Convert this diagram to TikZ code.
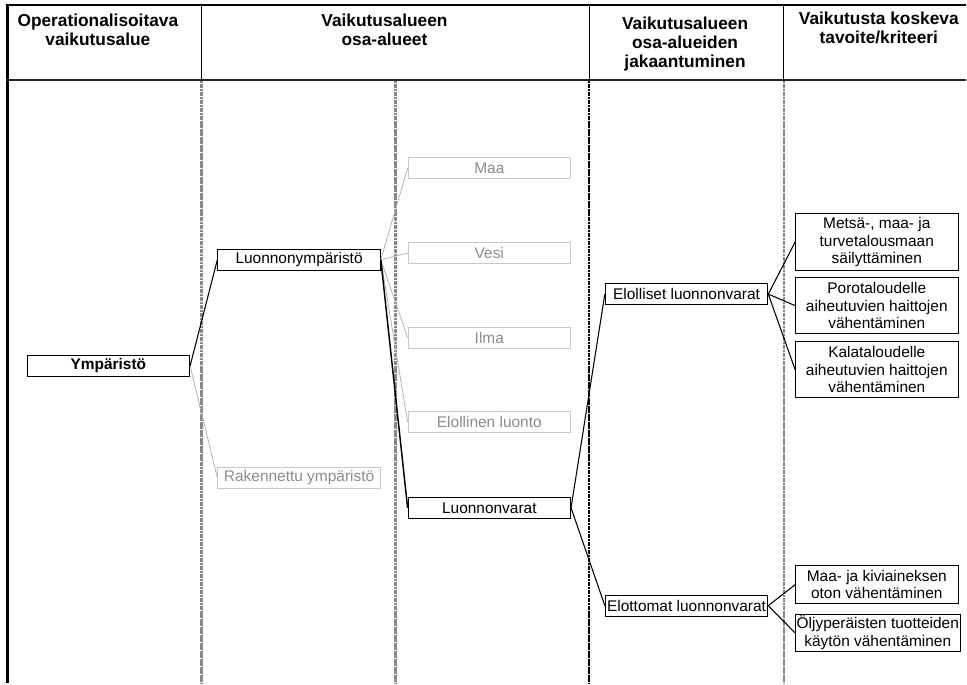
\documentclass[tikz,border=0pt]{standalone}
\usepackage{fontspec}
\setmainfont{Liberation Sans}
\definecolor{pale}{HTML}{C8C8C8}
\definecolor{paletext}{HTML}{8C8C8C}
\definecolor{paleline}{HTML}{B4B4B4}
\definecolor{divgray}{HTML}{888888}
\tikzset{
  area/.style={draw, line width=0.75pt, fill=white, inner sep=0pt, minimum width=122pt,
    minimum height=15.75pt, font=\fontsize{11.6}{12.9}\selectfont, align=center},
  areaoff/.style={area, draw=pale, text=paletext},
  link/.style={line width=0.8pt},
  linkoff/.style={line width=0.6pt, draw=paleline},
  divider/.style={line width=1.9pt, dash pattern=on 1.6pt off 0.4pt},
  headtext/.style={font=\fontsize{13}{14.2}\selectfont\bfseries, align=center,
    inner sep=0pt, anchor=north},
}
\begin{document}
\begin{tikzpicture}[x=0.75pt, y=-0.75pt]
                        \fill[white] (0,0) rectangle (967,684);%
                        
                        % Drawing header frame
                        \draw [line width=2pt] (6,5) -- (967,5);%
                        \draw [line width=2.5pt] (7.5,4) -- (7.5,684);%
                        \draw [line width=1.6pt, black!85] (6,80) -- (967,80);%
                        \draw [line width=0.75pt] (202,5) -- (202,80);%
                        \draw [line width=0.75pt] (590,5) -- (590,80);%
                        \draw [line width=0.75pt] (785,5) -- (785,80);%
                        
                        % Drawing column dividers
                        \draw [divider, divgray] (202,81) -- (202,684);%
                        \draw [divider, divgray] (396,81) -- (396,684);%
                        \draw [divider, black] (590,81) -- (590,684);%
                        \draw [divider, divgray] (785,81) -- (785,684);%
                        
                        % Marking column headers
                        \node [headtext] (headone) at (98,14) {Operationalisoitava\\vaikutusalue};%
                        \node [headtext] (headtwo) at (385,14) {Vaikutusalueen\\osa-alueet};%
                        \node [headtext] (headthree) at (686,17) {Vaikutusalueen\\osa-alueiden\\jakaantuminen};%
                        \node [headtext] (headfour) at (880,12) {Vaikutusta koskeva\\tavoite/kriteeri};%
                        
                        % Drawing box Ympäristö
                        \node [area] (ymparisto) at (108.5,366.5) {\bfseries Ympäristö};%
                        
                        % Drawing boxes of the sub-areas
                        \node [area] (luonnon) at (299.5,260) {Luonnonympäristö};%
                        \node [areaoff] (rakennettu) at (299.5,478.5) {Rakennettu ympäristö};%
                        \node [areaoff] (maa) at (490,168.5) {Maa};%
                        \node [areaoff] (vesi) at (490,253.5) {Vesi};%
                        \node [areaoff] (ilma) at (490,338) {Ilma};%
                        \node [areaoff] (elollinen) at (490,422.5) {Elollinen luonto};%
                        \node [area] (varat) at (490,508.5) {Luonnonvarat};%
                        
                        % Drawing boxes of the division
                        \node [area] (elolliset) at (687.5,294.5) {Elolliset luonnonvarat};%
                        \node [area] (elottomat) at (687.5,606.5) {Elottomat luonnonvarat};%
                        
                        % Drawing boxes of the criteria
                        \node [area, minimum height=42.75pt] (metsa) at (878,242.5) {Metsä-, maa- ja\\turvetalousmaan\\säilyttäminen};%
                        \node [area, minimum height=42pt] (poro) at (878,306) {Porotaloudelle\\aiheutuvien haittojen\\vähentäminen};%
                        \node [area, minimum height=42pt] (kala) at (878,370) {Kalataloudelle\\aiheutuvien haittojen\\vähentäminen};%
                        \node [area, minimum height=28.5pt] (kivi) at (878,585.5) {Maa- ja kiviaineksen\\oton vähentäminen};%
                        \node [area, minimum height=27.75pt, minimum width=124pt] (oljy) at (879,633.5) {Öljyperäisten tuotteiden\\käytön vähentäminen};%
                        
                        % Drawing links
                        \draw [link] (ymparisto.east) -- (luonnon.west);%
                        \draw [linkoff] (ymparisto.east) -- (rakennettu.west);%
                        \draw [linkoff] (luonnon.east) -- (maa.west);%
                        \draw [linkoff] (luonnon.east) -- (vesi.west);%
                        \draw [linkoff] (luonnon.east) -- (ilma.west);%
                        \draw [linkoff] (luonnon.east) -- (elollinen.west);%
                        \draw [link, line width=1.1pt] (luonnon.east) -- (varat.west);%
                        \draw [link] (varat.east) -- (elolliset.west);%
                        \draw [link] (varat.east) -- (elottomat.west);%
                        \draw [link] (elolliset.east) -- (metsa.west);%
                        \draw [link] (elolliset.east) -- (poro.west);%
                        \draw [link] (elolliset.east) -- (kala.west);%
                        \draw [link] (elottomat.east) -- (kivi.west);%
                        \draw [link] (elottomat.east) -- (oljy.west);%
\end{tikzpicture}
\end{document}
